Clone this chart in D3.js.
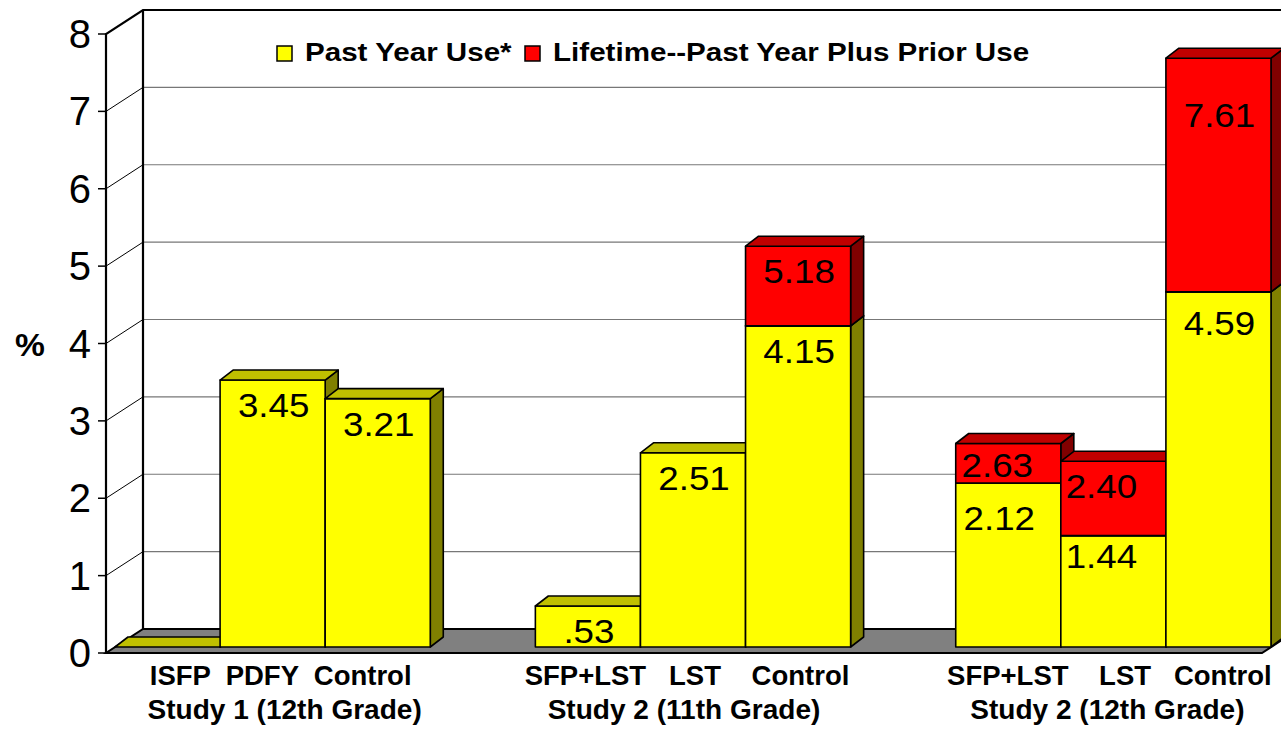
<!DOCTYPE html>
<html lang="en">

<head>
    <meta charset="UTF-8">
    <title>Past year and lifetime use</title>
    <script src="https://cdn.jsdelivr.net/npm/d3@7"></script>
    <style>
        body { margin: 0; background: #fff; }
        text { font-family: "Liberation Sans", Arial, sans-serif; }
    </style>
</head>

<body>
</body>
<script>
    // data
    const studies = ["Study 1 (12th Grade)", "Study 2 (11th Grade)", "Study 2 (12th Grade)"];
    const armLines = ["ISFP  PDFY  Control", "SFP+LST   LST    Control", "SFP+LST    LST   Control"];
    const arms = [["ISFP", "PDFY", "Control"], ["SFP+LST", "LST", "Control"], ["SFP+LST", "LST", "Control"]];
    const pastYear = [[0, 3.45, 3.21], [0.53, 2.51, 4.15], [2.12, 1.44, 4.59]];
    const lifetime = [[null, null, null], [null, null, 5.18], [2.63, 2.40, 7.61]];
    const seriesNames = ["Past Year Use*", "Lifetime--Past Year Plus Prior Use"];
    const yTicks = [0, 1, 2, 3, 4, 5, 6, 7, 8];

    const width = 1281, height = 729;
    const axisX = 106, floorRight = 1262;
    const wall = { dx: 37, dy: -24 };   // depth of walls / floor
    const shift = { dx: 9, dy: -6 };    // bars sit a bit behind the front plane
    const depth = { dx: 13, dy: -10 };  // bar depth

    const colors = [
        { front: "#ffff00", top: "#c0c000", side: "#808000" },
        { front: "#ff0000", top: "#c00000", side: "#800000" }
    ];

    // small label tweaks so they sit where the original put them
    const labelNudge = {
        "2-0-0": [-10, 10], "2-0-1": [-12, -4], "2-1-0": [-13, -5],
        "2-1-1": [-13, 0], "2-2-0": [0, 6], "2-2-1": [0, 32]
    };
    const armShift = [8, -6, -4];
    const studyShift = [12, -9, -6];

    const y = d3.scaleLinear().domain([0, 8]).range([653, 34]);
    const x0 = d3.scaleBand().domain(studies)
        .range([axisX + shift.dx, floorRight + shift.dx])
        .paddingInner(0.25).paddingOuter(0);
    const x1 = d3.scaleBand().domain([0, 1, 2]).range([0, x0.bandwidth()]);

    const fmt = v => d3.format(".2f")(v).replace(/^0\./, ".");

    const svg = d3.select("body").append("svg")
        .attr("width", width)
        .attr("height", height)
        .attr("viewBox", [0, 0, width, height]);

    // text helper, the original fonts are a little stretched sideways
    function txt(g, x, yy, s, size, opts = {}) {
        return g.append("text")
            .attr("transform", `translate(${x},${yy}) scale(${opts.sx || 1},1)`)
            .attr("font-size", size)
            .attr("font-weight", opts.bold ? "bold" : "normal")
            .attr("text-anchor", opts.anchor || "start")
            .attr("xml:space", "preserve")
            .style("white-space", "pre")
            .attr("fill", "#000")
            .text(s);
    }

    const pts = a => a.map(p => p.join(",")).join(" ");

    // back wall gridlines + side wall diagonals
    const grid = svg.append("g");
    yTicks.filter(t => t > 0 && t < 8).forEach(t => {
        grid.append("line")
            .attr("x1", axisX + wall.dx).attr("x2", floorRight + wall.dx)
            .attr("y1", y(t) + wall.dy).attr("y2", y(t) + wall.dy)
            .attr("stroke", "#777").attr("stroke-width", 1.2);
        grid.append("line")
            .attr("x1", axisX).attr("x2", axisX + wall.dx)
            .attr("y1", y(t)).attr("y2", y(t) + wall.dy)
            .attr("stroke", "#000").attr("stroke-width", 1);
    });

    // floor
    svg.append("polygon")
        .attr("points", pts([[axisX, y(0)], [floorRight, y(0)],
            [floorRight + wall.dx, y(0) + wall.dy], [axisX + wall.dx, y(0) + wall.dy]]))
        .attr("fill", "#808080").attr("stroke", "#000").attr("stroke-width", 2);

    // wall frame
    const frame = svg.append("g").attr("stroke", "#000").attr("stroke-width", 2.2).attr("fill", "none");
    frame.append("polyline")
        .attr("points", pts([[axisX, y(0)], [axisX, y(8)], [axisX + wall.dx, y(8) + wall.dy],
            [floorRight + wall.dx, y(8) + wall.dy]]));
    frame.append("line")
        .attr("x1", axisX + wall.dx).attr("x2", axisX + wall.dx)
        .attr("y1", y(8) + wall.dy).attr("y2", y(0) + wall.dy);

    // y axis ticks and labels
    const yAxis = svg.append("g");
    yTicks.forEach(t => {
        yAxis.append("line")
            .attr("x1", axisX - 8).attr("x2", axisX)
            .attr("y1", y(t)).attr("y2", y(t))
            .attr("stroke", "#000").attr("stroke-width", 1.5);
        txt(yAxis, 91, y(t) + 14, String(t), 40, { anchor: "end" });
    });
    txt(svg, 15, 356, "%", 32, { bold: true, sx: 1.05 });

    // bars
    const bars = svg.append("g").attr("stroke", "#000").attr("stroke-width", 1.6).attr("stroke-linejoin", "round");

    function box(bx, bw, yt, yb, c) {
        bars.append("polygon")
            .attr("points", pts([[bx + bw, yb], [bx + bw + depth.dx, yb + depth.dy],
                [bx + bw + depth.dx, yt + depth.dy], [bx + bw, yt]]))
            .attr("fill", c.side);
        bars.append("rect")
            .attr("x", bx).attr("y", yt).attr("width", bw).attr("height", yb - yt)
            .attr("fill", c.front);
        bars.append("polygon")
            .attr("points", pts([[bx, yt], [bx + depth.dx, yt + depth.dy],
                [bx + bw + depth.dx, yt + depth.dy], [bx + bw, yt]]))
            .attr("fill", c.top);
    }

    const labels = [];
    studies.forEach((s, gi) => {
        arms[gi].forEach((a, bi) => {
            const bx = x0(s) + x1(bi);
            const bw = x1.bandwidth();
            const segs = [[0, pastYear[gi][bi]]];
            if (lifetime[gi][bi] != null) segs.push([pastYear[gi][bi], lifetime[gi][bi]]);
            segs.forEach(([lo, hi], si) => {
                box(bx, bw, y(hi) + shift.dy, y(lo) + shift.dy, colors[si]);
                if (hi > 0) {
                    const n = labelNudge[`${gi}-${bi}-${si}`] || [0, 0];
                    labels.push({ x: bx + bw / 2 + 1 + n[0], y: y(hi) + shift.dy + 25 + n[1], t: fmt(hi) });
                }
            });
        });
    });

    const lab = svg.append("g");
    labels.forEach(l => txt(lab, l.x, l.y + 12, l.t, 34, { anchor: "middle", sx: 1.08 }));

    // category labels
    const xAxis = svg.append("g");
    studies.forEach((s, gi) => {
        const cx = x0(s) + x0.bandwidth() / 2;
        txt(xAxis, cx + armShift[gi], 685, armLines[gi], 27.5, { bold: true, anchor: "middle", sx: 1.0 });
        txt(xAxis, cx + studyShift[gi], 719, s, 27.5, { bold: true, anchor: "middle", sx: 1.02 });
    });

    // legend
    const legend = svg.append("g");
    const legendX = [277, 525];
    seriesNames.forEach((n, i) => {
        legend.append("rect")
            .attr("x", legendX[i]).attr("y", 46).attr("width", 15).attr("height", 15)
            .attr("fill", colors[i].front).attr("stroke", "#000").attr("stroke-width", 1.5);
        txt(legend, legendX[i] + 28, 61, n, 25.5, { bold: true, sx: 1.16 });
    });
</script>

</html>
